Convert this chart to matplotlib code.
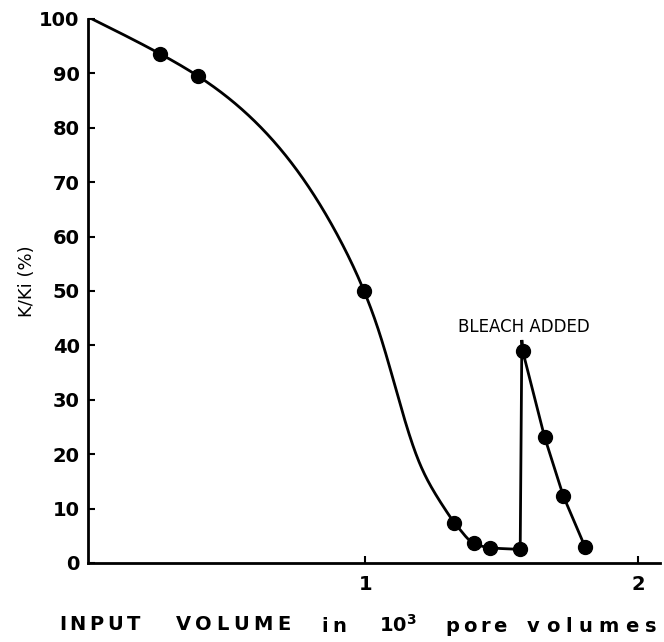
import numpy as np
import matplotlib
matplotlib.use("Agg")
import matplotlib.pyplot as plt

# ---- data ----
# smooth decline curve (knots)
curve_x = [0.0, 0.249, 0.388, 0.579, 0.908, 0.996, 1.049, 1.086, 1.153, 1.195, 1.256, 1.326]
curve_y = [100.0, 93.6, 89.5, 82.0, 59.4, 50.0, 42.8, 36.7, 25.0, 18.9, 12.8, 7.4]
# tail of the decline before bleach (gentle segments)
tail_x = [1.326, 1.399, 1.458, 1.568]
tail_y = [7.4, 3.6, 2.8, 2.5]
# after bleach addition (straight segments)
bleach_x = [1.568, 1.574, 1.577, 1.657, 1.726, 1.806]
bleach_y = [2.5, 41.0, 39.0, 23.2, 12.3, 2.9]
# measured points (markers)
marker_x = [0.249, 0.388, 0.996, 1.326, 1.399, 1.458, 1.568, 1.577, 1.657, 1.726, 1.806]
marker_y = [93.6, 89.5, 50.0, 7.4, 3.6, 2.8, 2.5, 39.0, 23.2, 12.3, 2.9]

y_ticks = list(range(0, 101, 10))
x_ticks = [1, 2]
x_tick_labels = ["1", "2"]


def natural_spline(x, y, xn):
    x = np.asarray(x, float); y = np.asarray(y, float)
    n = len(x); h = np.diff(x)
    A = np.zeros((n, n)); b = np.zeros(n)
    A[0, 0] = 1; A[-1, -1] = 1
    for i in range(1, n - 1):
        A[i, i - 1] = h[i - 1]; A[i, i] = 2 * (h[i - 1] + h[i]); A[i, i + 1] = h[i]
        b[i] = 6 * ((y[i + 1] - y[i]) / h[i] - (y[i] - y[i - 1]) / h[i - 1])
    M = np.linalg.solve(A, b)
    idx = np.clip(np.searchsorted(x, xn) - 1, 0, n - 2)
    xi, xi1, hi = x[idx], x[idx + 1], h[idx]
    return (M[idx] * (xi1 - xn) ** 3 / (6 * hi) + M[idx + 1] * (xn - xi) ** 3 / (6 * hi)
            + (y[idx] / hi - M[idx] * hi / 6) * (xi1 - xn)
            + (y[idx + 1] / hi - M[idx + 1] * hi / 6) * (xn - xi))


def pchip(x, y, xn):
    x = np.asarray(x, float); y = np.asarray(y, float)
    h = np.diff(x); d = np.diff(y) / h
    n = len(x); m = np.zeros(n)
    for k in range(1, n - 1):
        if d[k - 1] * d[k] > 0:
            w1 = 2 * h[k] + h[k - 1]; w2 = h[k] + 2 * h[k - 1]
            m[k] = (w1 + w2) / (w1 / d[k - 1] + w2 / d[k])
    m[0] = d[0]; m[-1] = d[-1]
    idx = np.clip(np.searchsorted(x, xn) - 1, 0, n - 2)
    t = (xn - x[idx]) / h[idx]
    h00 = 2 * t**3 - 3 * t**2 + 1; h10 = t**3 - 2 * t**2 + t
    h01 = -2 * t**3 + 3 * t**2; h11 = t**3 - t**2
    return h00 * y[idx] + h10 * h[idx] * m[idx] + h01 * y[idx + 1] + h11 * h[idx] * m[idx + 1]


W, H = 664, 642
fig = plt.figure(figsize=(W / 100, H / 100), dpi=100)
ax = fig.add_axes([88 / W, (H - 563) / H, (660 - 88) / W, (563 - 19) / H])

xs1 = np.linspace(curve_x[0], curve_x[-1], 700)
xs2 = np.linspace(tail_x[0], tail_x[-1], 200)
line_x = np.concatenate([xs1, xs2[1:]])
line_y = np.concatenate([natural_spline(curve_x, curve_y, xs1), pchip(tail_x, tail_y, xs2)[1:]])
ax.plot(line_x, line_y, color="black", lw=2.0, solid_capstyle="round")
ax.plot(bleach_x, bleach_y, color="black", lw=2.0, solid_joinstyle="miter")
ax.plot(marker_x, marker_y, "o", color="black", ms=10, zorder=5)

ax.set_xlim(-0.015, 2.08)
ax.set_ylim(0, 100)
for s in ("top", "right"):
    ax.spines[s].set_visible(False)
for s in ("left", "bottom"):
    ax.spines[s].set_linewidth(2.0)

tickfont = dict(family="DejaVu Sans", weight="bold", size=14)
ax.set_yticks(y_ticks)
ax.set_yticklabels([str(v) for v in y_ticks], **tickfont)
ax.set_xticks(x_ticks)
ax.set_xticklabels(x_tick_labels, **tickfont)
ax.tick_params(axis="y", direction="in", length=5, width=1.5, pad=6)
ax.tick_params(axis="x", direction="in", length=5, width=1.5, pad=9)

ax.text(1.58, 43.4, "BLEACH ADDED", ha="center", va="center",
        family="DejaVu Sans", size=12)

fig.text(27 / W, 1 - 281 / H, "K/Ki (%)", rotation=90, ha="center", va="center",
         family="DejaVu Sans", size=13)

renderer = fig.canvas.get_renderer()


def spaced(word, x0, x1, y, size=14, weight="bold"):
    """Place a letter-spaced word so that it spans x0..x1 pixels with equal gaps."""
    texts = [fig.text(0, 1 - y / H, ch, ha="left", va="center",
                      family="DejaVu Sans", weight=weight, size=size) for ch in word]
    widths = [t.get_window_extent(renderer).width for t in texts]
    n = len(word)
    gap = (x1 - x0 - sum(widths)) / (n - 1) if n > 1 else 0
    px = x0
    for t, w in zip(texts, widths):
        t.set_x(px / W)
        px += w + gap


yl = 624
spaced("INPUT", 59, 140, yl)
spaced("VOLUME", 176, 290, yl)
spaced("in", 321, 346, yl + 2)
fig.text(398 / W, 1 - (yl + 1) / H, r"10$^{\mathbf{3}}$", ha="center", va="center",
         family="DejaVu Sans", weight="bold", size=14)
spaced("pore", 445, 507, yl + 2)
spaced("volumes", 527, 656, yl + 2)

fig.savefig("out.png", dpi=100)
